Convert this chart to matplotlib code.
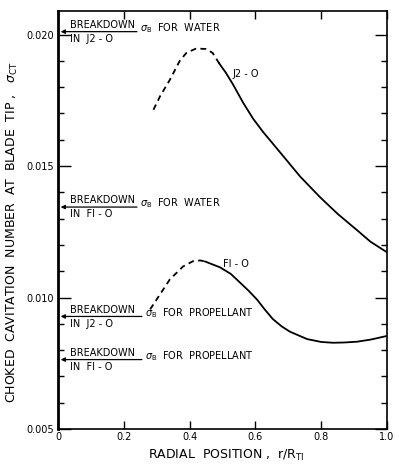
import numpy as np
import matplotlib
matplotlib.use("Agg")
import matplotlib.pyplot as plt
from matplotlib.ticker import MultipleLocator, FixedFormatter, FixedLocator

# J2-O curve (dashed part, then solid part)
j2_dash_x = [0.29, 0.31, 0.34, 0.37, 0.39, 0.42, 0.45, 0.47, 0.49]
j2_dash_y = [0.01714, 0.01765, 0.01828, 0.01900, 0.01930, 0.01947, 0.01945, 0.01930, 0.01890]
j2_solid_x = [0.49, 0.51, 0.532, 0.563, 0.593, 0.623, 0.675, 0.736, 0.796, 0.85,
              0.909, 0.95, 1.0]
j2_solid_y = [0.01890, 0.01855, 0.01810, 0.01740, 0.01680, 0.01630, 0.01552, 0.01460,
              0.01382, 0.01318, 0.01256, 0.01212, 0.01172]

# F1-O curve
f1_dash_x = [0.28, 0.31, 0.34, 0.38, 0.41, 0.432, 0.447]
f1_dash_y = [0.00955, 0.01012, 0.01069, 0.01118, 0.01138, 0.01141, 0.01137]
f1_solid_x = [0.447, 0.492, 0.525, 0.553, 0.58, 0.605, 0.63, 0.653, 0.68, 0.705,
              0.757, 0.80, 0.836, 0.87, 0.909, 0.95, 1.0]
f1_solid_y = [0.01137, 0.01115, 0.01090, 0.01057, 0.01025, 0.00992, 0.00952, 0.00918,
              0.00890, 0.00870, 0.00842, 0.00831, 0.00828, 0.00829, 0.00832, 0.00840,
              0.00854]

# breakdown levels marked on the left axis
bd_levels = [0.02011, 0.01344, 0.00928, 0.00764]
bd_engines = ["J2 - O", "FI - O", "J2 - O", "FI - O"]
bd_fluids = ["WATER", "WATER", "PROPELLANT", "PROPELLANT"]
bd_arrow_end = [0.24, 0.24, 0.255, 0.255]

x_ticks = [0, 0.2, 0.4, 0.6, 0.8, 1.0]
x_labels = ["0", "0.2", "0.4", "0.6", "0.8", "1.0"]
y_ticks = [0.005, 0.010, 0.015, 0.020]
y_labels = ["0.005", "0.010", "0.015", "0.020"]

fig = plt.figure(figsize=(3.99, 4.73), dpi=100)
ax = fig.add_axes([0.1454, 0.093, 0.8246, 0.884])

dash = (0, (3.2, 2.4))
ax.plot(j2_dash_x, j2_dash_y, color="black", lw=1.3, ls=dash)
ax.plot(j2_solid_x, j2_solid_y, color="black", lw=1.3)
ax.plot(f1_dash_x, f1_dash_y, color="black", lw=1.3, ls=dash)
ax.plot(f1_solid_x, f1_solid_y, color="black", lw=1.3)

fs = 7
ax.text(0.529, 0.01851, "J2 - O", fontsize=fs, va="center", ha="left")
ax.text(0.502, 0.01126, "FI - O", fontsize=fs, va="center", ha="left")

for lvl, eng, fluid, xe in zip(bd_levels, bd_engines, bd_fluids, bd_arrow_end):
    ax.annotate("", xy=(0.008, lvl), xytext=(xe, lvl),
                arrowprops=dict(arrowstyle="-|>", color="black", lw=0.9,
                                mutation_scale=6, shrinkA=0, shrinkB=0))
    ax.annotate("BREAKDOWN", xy=(0.035, lvl), xytext=(0, 1.2),
                textcoords="offset points", fontsize=fs, va="bottom", ha="left")
    ax.annotate("IN  " + eng, xy=(0.035, lvl), xytext=(0, -1.5),
                textcoords="offset points", fontsize=fs, va="top", ha="left")
    ax.annotate(r"$\sigma_{\mathrm{B}}$  FOR  " + fluid, xy=(xe + 0.008, lvl),
                xytext=(0, 0.5), textcoords="offset points", fontsize=fs,
                va="baseline", ha="left")

ax.set_xlim(0, 1.0)
ax.set_ylim(0.005, 0.0209)
ax.xaxis.set_major_locator(FixedLocator(x_ticks))
ax.xaxis.set_major_formatter(FixedFormatter(x_labels))
ax.yaxis.set_major_locator(FixedLocator(y_ticks))
ax.yaxis.set_major_formatter(FixedFormatter(y_labels))
ax.yaxis.set_minor_locator(MultipleLocator(0.001))

ax.tick_params(axis="x", which="major", direction="in", length=6, width=1,
               top=True, labelsize=7, pad=2)
ax.tick_params(axis="y", which="major", direction="in", length=9, width=1,
               right=True, labelsize=7, pad=3)
ax.tick_params(axis="y", which="minor", direction="in", length=4.5, width=1,
               right=True)
for sp in ax.spines.values():
    sp.set_linewidth(1.2)
ax.spines["left"].set_linewidth(2)

fig.text(0.567, 0.038, r"RADIAL  POSITION ,  r/R$_{\mathrm{TI}}$", fontsize=9,
         ha="center", va="center")
fig.text(0.031, 0.51, r"CHOKED  CAVITATION  NUMBER  AT  BLADE  TIP ,   $\sigma_{\mathrm{CT}}$",
         fontsize=9, rotation=90, ha="center", va="center")

fig.savefig("out.png", dpi=100)
